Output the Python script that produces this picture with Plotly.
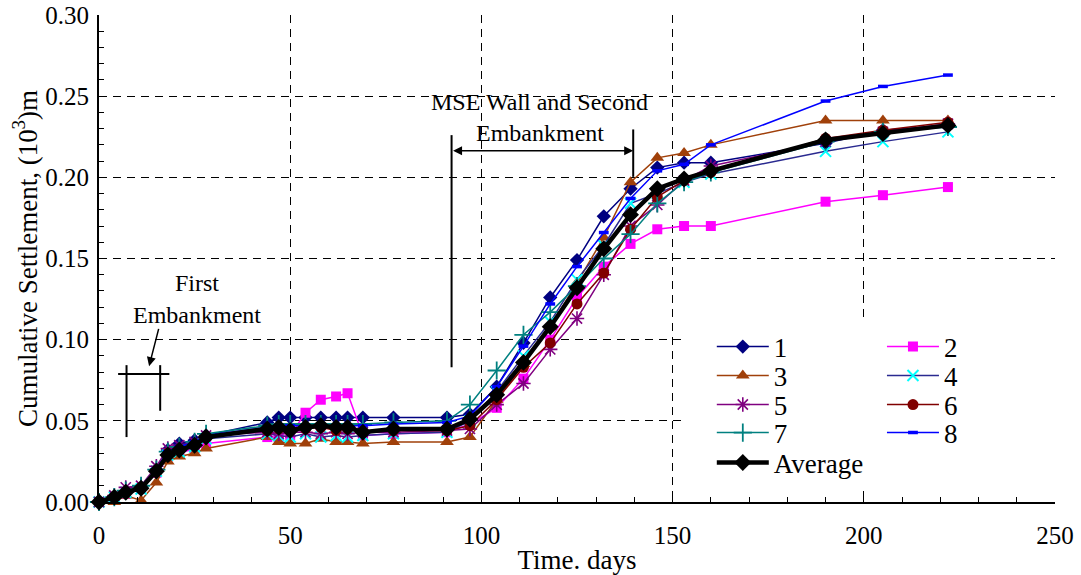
import plotly.graph_objects as go

days = [0, 4, 7, 11, 15, 18, 21, 25, 28, 44, 47, 50, 54, 58, 62, 65, 69, 77, 91, 97,
        104, 111, 118, 125, 132, 139, 146, 153, 160, 190, 205, 222]

s1 = [0.000, 0.003, 0.006, 0.009, 0.020, 0.032, 0.036, 0.038, 0.041, 0.049, 0.052, 0.052, 0.052, 0.052, 0.052, 0.052,
      0.052, 0.052, 0.052, 0.054, 0.071, 0.098, 0.126, 0.149, 0.176, 0.193, 0.206, 0.209, 0.209, 0.221, 0.229, 0.232]
s2 = [-0.001, 0.002, 0.005, 0.008, 0.018, 0.028, 0.030, 0.033, 0.036, 0.040, 0.040, 0.041, 0.055, 0.063, 0.065, 0.067,
      0.041, 0.042, 0.043, 0.048, 0.058, 0.076, 0.100, 0.126, 0.145, 0.159, 0.168, 0.170, 0.170, 0.185, 0.189, 0.194]
s3 = [-0.002, 0.000, 0.004, 0.001, 0.012, 0.025, 0.028, 0.030, 0.033, 0.040, 0.037, 0.036, 0.036, 0.039, 0.037, 0.037,
      0.036, 0.037, 0.037, 0.040, 0.063, 0.085, 0.108, 0.135, 0.163, 0.197, 0.212, 0.215, 0.220, 0.235, 0.235, 0.235]
s4 = [0.000, 0.003, 0.006, 0.008, 0.019, 0.029, 0.031, 0.034, 0.039, 0.042, 0.041, 0.040, 0.042, 0.040, 0.041, 0.040,
      0.041, 0.042, 0.043, 0.050, 0.068, 0.090, 0.111, 0.137, 0.158, 0.184, 0.190, 0.197, 0.202, 0.216, 0.222, 0.228]
s5 = [0.000, 0.004, 0.009, 0.010, 0.022, 0.033, 0.035, 0.037, 0.041, 0.043, 0.042, 0.043, 0.043, 0.042, 0.043, 0.042,
      0.043, 0.043, 0.044, 0.045, 0.060, 0.073, 0.094, 0.113, 0.140, 0.170, 0.183, 0.198, 0.207, 0.222, 0.228, 0.233]
s6 = [0.000, 0.003, 0.006, 0.009, 0.019, 0.030, 0.032, 0.035, 0.040, 0.044, 0.045, 0.044, 0.045, 0.046, 0.044, 0.045,
      0.043, 0.044, 0.044, 0.047, 0.063, 0.083, 0.098, 0.122, 0.141, 0.168, 0.188, 0.198, 0.203, 0.224, 0.229, 0.234]
s7 = [0.000, 0.003, 0.007, 0.010, 0.020, 0.031, 0.034, 0.037, 0.042, 0.047, 0.048, 0.048, 0.048, 0.048, 0.048, 0.048,
      0.048, 0.049, 0.050, 0.060, 0.081, 0.103, 0.117, 0.133, 0.150, 0.165, 0.184, 0.197, 0.203, 0.222, 0.228, 0.231]
s8 = [0.000, 0.003, 0.006, 0.009, 0.020, 0.031, 0.034, 0.037, 0.041, 0.046, 0.047, 0.047, 0.047, 0.047, 0.047, 0.047,
      0.047, 0.048, 0.049, 0.053, 0.071, 0.096, 0.122, 0.145, 0.166, 0.187, 0.204, 0.208, 0.220, 0.247, 0.256, 0.263]
avg = [0.000, 0.003, 0.006, 0.0085, 0.019, 0.029, 0.032, 0.035, 0.040, 0.045, 0.046, 0.044, 0.046, 0.047, 0.046, 0.046,
       0.043, 0.045, 0.045, 0.051, 0.066, 0.086, 0.108, 0.132, 0.156, 0.177, 0.193, 0.199, 0.204, 0.223, 0.227, 0.232]

names = ["1", "2", "3", "4", "5", "6", "7", "8"]
series = [s1, s2, s3, s4, s5, s6, s7, s8]

FONT = "Liberation Serif"

styles = [
    dict(line="#000080", mcolor="#000080", symbol="diamond", size=11, lw=0),
    dict(line="#FF00FF", mcolor="#FF00FF", symbol="square", size=10, lw=0),
    dict(line="#A0400A", mcolor="#A0400A", symbol="triangle-up", size=12, lw=0),
    dict(line="#2A2A90", mcolor="#00FFFF", symbol="x-thin", size=11, lw=2, ),
    dict(line="#800080", mcolor="#800080", symbol="asterisk", size=12, lw=1.6),
    dict(line="#800000", mcolor="#800000", symbol="circle", size=11, lw=0),
    dict(line="#008080", mcolor="#008080", symbol="cross-thin", size=13, lw=1.8),
    dict(line="#0000FF", mcolor="#0000FF", symbol="line-ew", size=7, lw=3.5),
]

# one legend box per entry: (legend id, x paper, y paper of row centre)
col1_x, col2_x = 0.641, 0.819
row_y = [0.3183, 0.2587, 0.1992, 0.1417, 0.0801]
legend_slots = [
    ("legend", col1_x, row_y[0]), ("legend2", col2_x, row_y[0]),
    ("legend3", col1_x, row_y[1]), ("legend4", col2_x, row_y[1]),
    ("legend5", col1_x, row_y[2]), ("legend6", col2_x, row_y[2]),
    ("legend7", col1_x, row_y[3]), ("legend8", col2_x, row_y[3]),
    ("legend9", col1_x, row_y[4]),
]

fig = go.Figure()
for name, ys, st, slot in zip(names, series, styles, legend_slots):
    thin = st["symbol"] in ("x-thin", "asterisk", "cross-thin", "line-ew")
    marker = dict(symbol=st["symbol"], size=st["size"], color=st["mcolor"])
    if thin:
        marker["line"] = dict(color=st["mcolor"], width=st["lw"])
    fig.add_trace(go.Scatter(
        x=days, y=ys, name=name, mode="lines+markers",
        line=dict(color=st["line"], width=1.5), showlegend=True,
        marker=marker, cliponaxis=False, legend=slot[0]))

fig.add_trace(go.Scatter(
    x=days, y=avg, name="Average", mode="lines+markers",
    line=dict(color="black", width=4.5), showlegend=True,
    marker=dict(symbol="diamond", size=13, color="black"),
    cliponaxis=False, legend=legend_slots[8][0]))

# annotation geometry (days, settlement)
first_left = 7.2
first_right = 16.0
first_bar_y = 0.0788
mse_left = 92.2
mse_right = 139.7
mse_arrow_y = 0.2163

line_style = dict(color="black", width=2)
shapes = [
    dict(type="rect", x0=152.5, x1=250, y0=0.009, y1=0.111, xref="x", yref="y",
         fillcolor="white", line=dict(width=0), layer="between"),
    dict(type="line", x0=first_left, x1=first_left, y0=0.040, y1=0.0843, line=line_style),
    dict(type="line", x0=first_right, x1=first_right, y0=0.0562, y1=0.0843, line=line_style),
    dict(type="line", x0=5.0, x1=18.4, y0=first_bar_y, y1=first_bar_y, line=line_style),
    dict(type="line", x0=mse_left, x1=mse_left, y0=0.083, y1=0.226, line=line_style),
    dict(type="line", x0=mse_right, x1=mse_right, y0=0.2003, y1=0.2295, line=line_style),
]
fig.update_layout(shapes=shapes)

tfont = dict(family=FONT, size=24, color="black")
annotations = [
    dict(x=25.5, y=0.1347, text="First", showarrow=False, font=tfont),
    dict(x=25.5, y=0.1151, text="Embankment", showarrow=False, font=tfont),
    dict(x=13.1, y=0.0837, ax=15.7, ay=0.1076, axref="x", ayref="y", text="",
         showarrow=True, arrowhead=2, arrowsize=1.2, arrowwidth=1.5, arrowcolor="black"),
    dict(x=115.2, y=0.2465, text="MSE Wall and Second", showarrow=False, font=tfont),
    dict(x=115.3, y=0.2274, text="Embankment", showarrow=False, font=tfont),
    dict(x=mse_right, y=mse_arrow_y, ax=mse_left, ay=mse_arrow_y, axref="x", ayref="y", text="",
         showarrow=True, arrowhead=2, startarrowhead=2, arrowside="end+start",
         arrowsize=1.2, startarrowsize=1.2, arrowwidth=1.5, arrowcolor="black"),
]
fig.update_layout(annotations=annotations)

axis_common = dict(
    showline=True, linecolor="black", linewidth=2, mirror=False,
    ticks="inside", ticklen=7, tickwidth=1, tickcolor="black",
    showgrid=True, gridcolor="black", gridwidth=1, griddash="8px,6px",
    zeroline=False, automargin=False,
    tickfont=dict(family=FONT, size=25, color="black"),
)

fig.update_xaxes(range=[0, 250], dtick=50, tick0=0, ticklabelstandoff=10,
                 minor=dict(dtick=10, ticks="inside", ticklen=5, tickcolor="black", showgrid=False),
                 title=dict(text="Time. days", font=dict(family=FONT, size=27, color="black"), standoff=4),
                 **axis_common)
fig.update_yaxes(range=[0, 0.30], dtick=0.05, tick0=0, tickformat=".2f", ticklabelstandoff=3,
                 minor=dict(dtick=0.01, ticks="inside", ticklen=5, tickcolor="black", showgrid=False),
                 title=dict(text="Cumulative Settlement, (10<sup>3</sup>)m",
                            font=dict(family=FONT, size=27, color="black"), standoff=0),
                 **axis_common)

legend_common = dict(font=dict(family=FONT, size=27, color="black"), bgcolor="rgba(0,0,0,0)",
                     itemwidth=52, orientation="v", xanchor="left", yanchor="middle",
                     tracegroupgap=0, itemclick=False, itemdoubleclick=False, visible=True)
legend_layout = {lid: dict(x=lx, y=ly, **legend_common) for lid, lx, ly in legend_slots}

fig.update_layout(
    width=1081, height=575, showlegend=True,
    margin=dict(l=99, r=26, t=15, b=73),
    paper_bgcolor="white", plot_bgcolor="white",
    font=dict(family=FONT, size=20, color="black"),
    **legend_layout,
)

fig.write_html("out.html", config={"displayModeBar": False},
               post_script="document.body.style.margin='0';")
